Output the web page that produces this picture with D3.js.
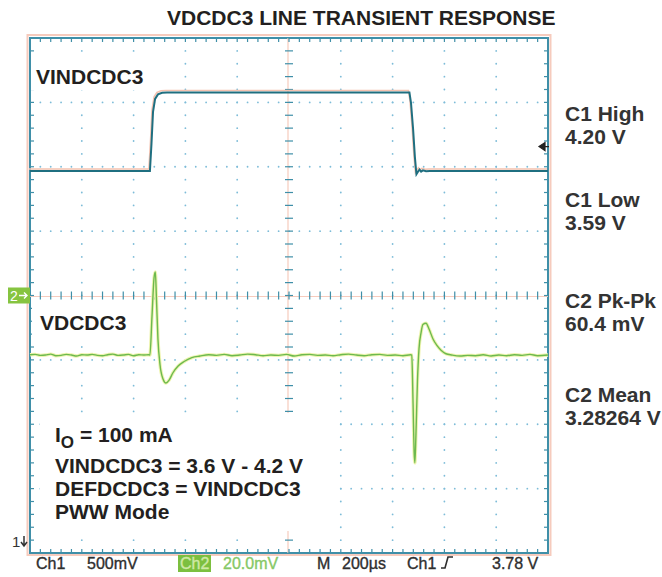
<!DOCTYPE html>
<html>
<head>
<meta charset="utf-8">
<script src="https://cdn.jsdelivr.net/npm/d3@7"></script>
<style>
  body { margin: 0; background: #fff; }
  svg { display: block; font-family: 'Liberation Sans', Arial, sans-serif; }
</style>
</head>
<body>
<script>
'use strict';

const title = 'VDCDC3 LINE TRANSIENT RESPONSE';

// Ch1 (VINDCDC3): time in µs from left edge, volts
const ch1Time = [0, 463, 469, 475, 483, 494, 510, 529, 1465, 1471, 1479, 1486, 1492, 1498, 1504, 1510, 1517, 1529, 1544, 2000];
const ch1Volts = [3.59, 3.59, 3.80, 4.05, 4.15, 4.185, 4.198, 4.20, 4.20, 4.12, 3.92, 3.70, 3.565, 3.585, 3.60, 3.585, 3.595, 3.588, 3.59, 3.59];

// Ch2 (VDCDC3): time in µs, deviation from mean in mV
const ch2Time = [0, 20, 40, 60, 80, 100, 120, 140, 160, 180, 200, 220, 240, 260, 280, 300, 320, 340, 360, 380, 400, 420, 440, 458,
  463, 471, 479, 484, 488, 494, 502, 514, 525, 537, 552, 571, 595, 625,
  656, 690, 720, 750, 780, 810, 840, 870, 900, 930, 960, 990, 1020, 1050, 1080, 1110, 1140, 1170, 1200, 1230, 1260, 1290, 1320, 1350, 1380, 1410, 1440, 1470,
  1474, 1479, 1483, 1486, 1490, 1496, 1502, 1510, 1517, 1529, 1541, 1556, 1571, 1587, 1606,
  1629, 1660, 1690, 1720, 1750, 1780, 1810, 1840, 1870, 1900, 1930, 1960, 2000];
const ch2Mv = [0.1, 0.2, -0.1, 0.0, 0.3, -0.2, -0.1, 0.2, 0.0, -0.3, 0.1, 0.0, 0.2, -0.1, -0.2, 0.1, 0.3, -0.1, 0.0, 0.2, -0.2, 0.1, 0.0, 0.1,
  0, 12, 24, 25.8, 18, 5, -3, -7.5, -8.7, -7.8, -5.5, -3.5, -2, -0.8,
  -0.3, 0.1, -0.1, 0.2, -0.2, 0.0, 0.3, 0.1, -0.2, 0.0, -0.1, 0.2, -0.3, 0.1, 0.2, -0.1, 0.0, -0.2, 0.1, 0.3, 0.0, -0.2, 0.1, 0.2, -0.1, 0.0, -0.2, 0.1,
  0, -15, -30, -33.5, -25, -8, 2, 7, 9.5, 9.9, 8, 5, 3, 1.5, 0.4,
  0, -0.3, -0.1, -0.2, 0.1, -0.3, 0.0, -0.2, 0.1, -0.1, 0.2, -0.2, 0.0];

const measureNames = ['C1 High', 'C1 Low', 'C2 Pk-Pk', 'C2 Mean'];
const measureValues = ['4.20 V', '3.59 V', '60.4 mV', '3.28264 V'];
const noteLines = ['VINDCDC3 = 3.6 V - 4.2 V', 'DEFDCDC3 = VINDCDC3', 'PWW Mode'];

const ch1Center = 2.623;   // volts at screen centre
const ch1PerDiv = 0.5;
const ch2Center = 18.5;    // mV at screen centre
const ch2PerDiv = 20;
const trigLevel = 3.78;

const width = 662;
const height = 577;
const fLeft = 30, fRight = 548, fTop = 38, fBottom = 553;

const svg = d3.select('body').append('svg')
  .attr('width', width)
  .attr('height', height);

const x = d3.scaleLinear().domain([0, 2000]).range([fLeft, fRight]);
const y1 = d3.scaleLinear().domain([ch1Center - 4 * ch1PerDiv, ch1Center + 4 * ch1PerDiv]).range([fBottom, fTop]);
const y2 = d3.scaleLinear().domain([ch2Center - 4 * ch2PerDiv, ch2Center + 4 * ch2PerDiv]).range([fBottom, fTop]);
const xDiv = d3.scaleLinear().domain([0, 10]).range([fLeft, fRight]);
const yDiv = d3.scaleLinear().domain([-4, 4]).range([fBottom, fTop]);

const teal = '#3f8fa8';
const pink = '#f6cbbd';
const dotColor = '#7dbcd8';

// title
svg.append('text')
  .attr('x', 167).attr('y', 25)
  .attr('font-size', 21).attr('font-weight', 'bold').attr('fill', '#231f20')
  .text(title);

// frame
svg.append('rect')
  .attr('x', fLeft - 2.5).attr('y', fTop - 3).attr('width', fRight - fLeft + 5).attr('height', fBottom - fTop + 5)
  .attr('fill', 'none').attr('stroke', pink).attr('stroke-width', 2);
svg.append('rect')
  .attr('x', fLeft).attr('y', fTop).attr('width', fRight - fLeft).attr('height', fBottom - fTop)
  .attr('fill', '#fff').attr('stroke', teal).attr('stroke-width', 2);

const grid = svg.append('g');

// dotted graticule
const dots = [];
for (let k = 1; k < 10; k++) {
  if (k === 5) continue;
  for (let j = 1; j < 40; j++) dots.push([xDiv(k), yDiv(-4 + j / 5)]);
}
for (let k = -3; k <= 3; k++) {
  if (k === 0) continue;
  for (let i = 1; i < 50; i++) dots.push([xDiv(i / 5), yDiv(k)]);
}
grid.selectAll('circle.dot')
  .data(dots)
  .enter().append('circle')
  .attr('class', 'dot')
  .attr('cx', function(d) { return d[0]; })
  .attr('cy', function(d) { return d[1]; })
  .attr('r', 0.9)
  .attr('fill', dotColor);

// centre cross
grid.append('line')
  .attr('x1', fLeft).attr('x2', fRight).attr('y1', yDiv(0) + 1).attr('y2', yDiv(0) + 1)
  .attr('stroke', pink).attr('stroke-width', 1.2);
grid.append('line')
  .attr('x1', xDiv(5) - 1).attr('x2', xDiv(5) - 1).attr('y1', fTop).attr('y2', fBottom)
  .attr('stroke', pink).attr('stroke-width', 1.2);

const ticks = [];
for (let i = 1; i < 50; i++) {
  const xx = xDiv(i / 5);
  ticks.push([xx, fTop, xx, fTop + 4]);
  ticks.push([xx, fBottom - 4, xx, fBottom]);
  ticks.push([xx, yDiv(0) - 4, xx, yDiv(0) + 4]);
}
for (let j = 1; j < 40; j++) {
  const yy = yDiv(-4 + j / 5);
  ticks.push([fLeft, yy, fLeft + 4, yy]);
  ticks.push([fRight - 4, yy, fRight, yy]);
  ticks.push([xDiv(5) - 4, yy, xDiv(5) + 4, yy]);
}
grid.selectAll('line.tick')
  .data(ticks)
  .enter().append('line')
  .attr('class', 'tick')
  .attr('x1', function(d) { return d[0]; })
  .attr('y1', function(d) { return d[1]; })
  .attr('x2', function(d) { return d[2]; })
  .attr('y2', function(d) { return d[3]; })
  .attr('stroke', teal)
  .attr('stroke-width', 1.2);

// white label boxes
svg.append('rect').attr('x', 31).attr('y', 62).attr('width', 116).attr('height', 28).attr('fill', '#fff');
svg.append('rect').attr('x', 32).attr('y', 303).attr('width', 103).attr('height', 37).attr('fill', '#fff');
svg.append('rect').attr('x', 40).attr('y', 413).attr('width', 295).attr('height', 118).attr('fill', '#fff');

// traces
const ch1Data = ch1Time.map(function(t, i) { return { t: t, v: ch1Volts[i] }; });
const ch2Data = ch2Time.map(function(t, i) { return { t: t, v: ch2Mv[i] }; });

const line1 = d3.line()
  .x(function(d) { return x(d.t); })
  .y(function(d) { return y1(d.v); });
const line2 = d3.line()
  .curve(d3.curveMonotoneX)
  .x(function(d) { return x(d.t); })
  .y(function(d) { return y2(d.v); });

svg.append('path')
  .datum(ch1Data)
  .attr('d', line1)
  .attr('transform', 'translate(-1,-2)')
  .attr('fill', 'none')
  .attr('stroke', '#f4c2b0')
  .attr('stroke-width', 1.6);
svg.append('path')
  .datum(ch1Data)
  .attr('d', line1)
  .attr('fill', 'none')
  .attr('stroke', '#1f6f80')
  .attr('stroke-width', 2);

svg.append('path')
  .datum(ch2Data)
  .attr('d', line2)
  .attr('fill', 'none')
  .attr('stroke', '#eef4b0')
  .attr('stroke-width', 3.4);
svg.append('path')
  .datum(ch2Data)
  .attr('d', line2)
  .attr('fill', 'none')
  .attr('stroke', '#6cb94e')
  .attr('stroke-width', 1.4);

// trace labels
svg.append('text')
  .attr('x', 36).attr('y', 84)
  .attr('font-size', 21).attr('font-weight', 'bold').attr('fill', '#231f20')
  .text('VINDCDC3');
svg.append('text')
  .attr('x', 40).attr('y', 330)
  .attr('font-size', 21).attr('font-weight', 'bold').attr('fill', '#231f20')
  .text('VDCDC3');

// notes
const io = svg.append('text')
  .attr('x', 55).attr('y', 442)
  .attr('font-size', 21).attr('font-weight', 'bold').attr('fill', '#231f20');
io.append('tspan').text('I');
io.append('tspan').attr('dy', 6).attr('font-size', 17).text('O');
io.append('tspan').attr('dy', -6).text(' = 100 mA');

svg.selectAll('text.note')
  .data(noteLines)
  .enter().append('text')
  .attr('class', 'note')
  .attr('x', 55)
  .attr('y', function(d, i) { return 473 + i * 23; })
  .attr('font-size', 21).attr('font-weight', 'bold').attr('fill', '#231f20')
  .text(function(d) { return d; });

// measurements
const measY = [121, 207, 308, 402];
const meas = svg.selectAll('g.meas')
  .data(measureNames)
  .enter().append('g')
  .attr('class', 'meas');
meas.append('text')
  .attr('x', 565).attr('y', function(d, i) { return measY[i]; })
  .attr('font-size', 21).attr('font-weight', 'bold').attr('fill', '#333')
  .text(function(d) { return d; });
meas.append('text')
  .attr('x', 565).attr('y', function(d, i) { return measY[i] + 23; })
  .attr('font-size', 21).attr('font-weight', 'bold').attr('fill', '#333')
  .text(function(d, i) { return measureValues[i]; });

// channel markers
const m2 = y2(ch2Center);
svg.append('rect').attr('x', 8).attr('y', m2 - 8).attr('width', 22).attr('height', 16).attr('fill', '#86c440');
svg.append('text').attr('x', 10).attr('y', m2 + 5).attr('font-size', 14).attr('fill', '#fff').text('2');
svg.append('path')
  .attr('d', 'M19,' + m2 + 'h8 M24,' + (m2 - 3) + 'l3,3 l-3,3')
  .attr('fill', 'none').attr('stroke', '#fff').attr('stroke-width', 1.4);

svg.append('text').attr('x', 12).attr('y', 547).attr('font-size', 15).attr('fill', '#333').text('1');
svg.append('path')
  .attr('d', 'M24,536 v10 M21,542 l3,4 l3,-4')
  .attr('fill', 'none').attr('stroke', '#333').attr('stroke-width', 1.5);

// trigger level marker
const ty = y1(trigLevel);
svg.append('path')
  .attr('d', 'M539,' + ty + 'l6,-4 v8 z M545,' + ty + 'h4')
  .attr('fill', '#222').attr('stroke', '#222').attr('stroke-width', 1.2);

// status line
const status = svg.append('g')
  .attr('font-size', 16).attr('fill', '#2e2e2e')
  .attr('stroke', '#2e2e2e').attr('stroke-width', 0.35);
status.append('text').attr('x', 36).attr('y', 569).text('Ch1');
status.append('text').attr('x', 87).attr('y', 569).text('500mV');
status.append('rect').attr('x', 178).attr('y', 555).attr('width', 33).attr('height', 17)
  .attr('fill', '#7cbf3f').attr('stroke', 'none');
status.append('text').attr('x', 180).attr('y', 569)
  .attr('fill', '#cfe9a6').attr('stroke', '#cfe9a6').text('Ch2');
status.append('text').attr('x', 223).attr('y', 569)
  .attr('fill', '#86c866').attr('stroke', '#86c866').text('20.0mV');
status.append('text').attr('x', 317).attr('y', 569).text('M');
status.append('text').attr('x', 342).attr('y', 569).text('200µs');
status.append('text').attr('x', 407).attr('y', 569).text('Ch1');
status.append('path')
  .attr('d', 'M441,568 h4 l3,-11 h5')
  .attr('fill', 'none').attr('stroke-width', 1.6);
status.append('text').attr('x', 492).attr('y', 569).text('3.78 V');
</script>
</body>
</html>
